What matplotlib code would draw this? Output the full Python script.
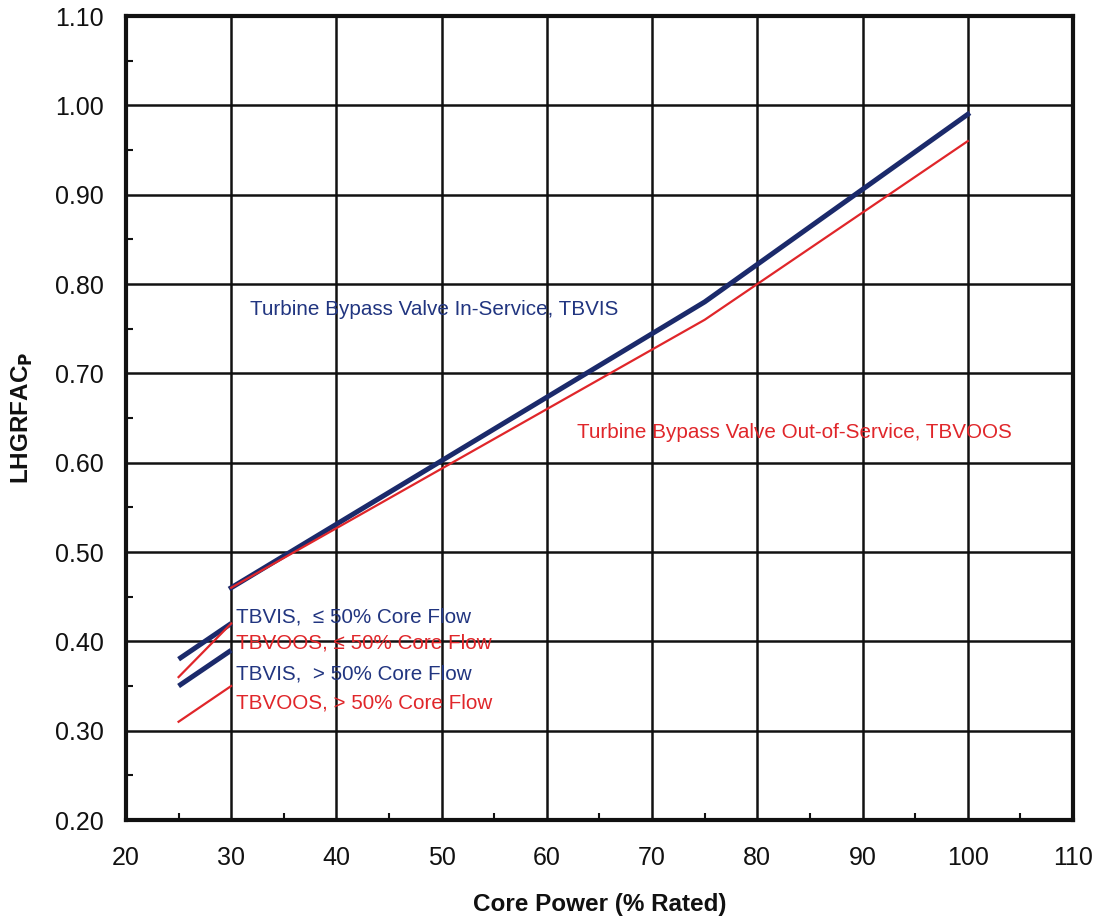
import matplotlib
matplotlib.use("Agg")
import matplotlib.pyplot as plt
from matplotlib.ticker import MultipleLocator

plt.rcParams['font.family'] = ['Liberation Sans', 'DejaVu Sans']

NAVY = '#1b2a6b'
NAVY_TXT = '#213580'
RED = '#e0262a'

# Main curves above 30% power
tbvis_power = [30, 75, 100]
tbvis_fac = [0.46, 0.78, 0.99]
tbvoos_power = [30, 75, 100]
tbvoos_fac = [0.46, 0.76, 0.96]

# Low-power segments (25-30% power) by core flow
low_power = [25, 30]
tbvis_le50 = [0.38, 0.42]
tbvoos_le50 = [0.36, 0.42]
tbvis_gt50 = [0.35, 0.39]
tbvoos_gt50 = [0.31, 0.35]

fig = plt.figure(figsize=(11.02, 9.16), dpi=100)
ax = fig.add_axes([0.1143, 0.1048, 0.8594, 0.8777])

ax.plot(tbvoos_power, tbvoos_fac, color=RED, lw=1.6, zorder=4)
ax.plot(tbvis_power, tbvis_fac, color=NAVY, lw=3.6, zorder=3)

ax.plot(low_power, tbvis_le50, color=NAVY, lw=3.6, solid_capstyle='butt', zorder=3)
ax.plot(low_power, tbvoos_le50, color=RED, lw=1.6, zorder=4)
ax.plot(low_power, tbvis_gt50, color=NAVY, lw=3.6, solid_capstyle='butt', zorder=3)
ax.plot(low_power, tbvoos_gt50, color=RED, lw=1.6, zorder=4)

ax.set_xlim(20, 110)
ax.set_ylim(0.20, 1.10)
ax.xaxis.set_major_locator(MultipleLocator(10))
ax.yaxis.set_major_locator(MultipleLocator(0.10))
ax.xaxis.set_minor_locator(MultipleLocator(5))
ax.yaxis.set_minor_locator(MultipleLocator(0.05))
ax.yaxis.set_major_formatter(lambda v, pos: f"{v:.2f}")

ax.grid(True, which='major', color='#111111', lw=1.8, zorder=1)
ax.tick_params(which='major', length=0, labelsize=18, colors='#111111')
ax.tick_params(axis='y', which='major', pad=16)
ax.tick_params(axis='x', which='major', pad=19)
ax.tick_params(which='minor', direction='in', length=5, width=1.5, color='#111111')
for s in ax.spines.values():
    s.set_linewidth(3)
    s.set_color('#111111')

ax.set_xlabel('Core Power (% Rated)', fontsize=17.5, fontweight='bold', labelpad=16, color='#111111')
ax.set_ylabel(r'LHGRFAC$_\mathbf{P}$', fontsize=17.5, fontweight='bold', labelpad=14, color='#111111')

ax.text(31.8, 0.772, 'Turbine Bypass Valve In-Service, TBVIS', color=NAVY_TXT,
        fontsize=14.9, va='center', ha='left')
ax.text(62.9, 0.634, 'Turbine Bypass Valve Out-of-Service, TBVOOS', color=RED,
        fontsize=14.9, va='center', ha='left')

ax.text(30.5, 0.427, 'TBVIS,  \u2264 50% Core Flow', color=NAVY_TXT, fontsize=14.9, va='center')
ax.text(30.5, 0.398, 'TBVOOS, \u2264 50% Core Flow', color=RED, fontsize=14.9, va='center')
ax.text(30.5, 0.363, 'TBVIS,  > 50% Core Flow', color=NAVY_TXT, fontsize=14.9, va='center')
ax.text(30.5, 0.331, 'TBVOOS, > 50% Core Flow', color=RED, fontsize=14.9, va='center')

fig.savefig('out.png', dpi=100)
